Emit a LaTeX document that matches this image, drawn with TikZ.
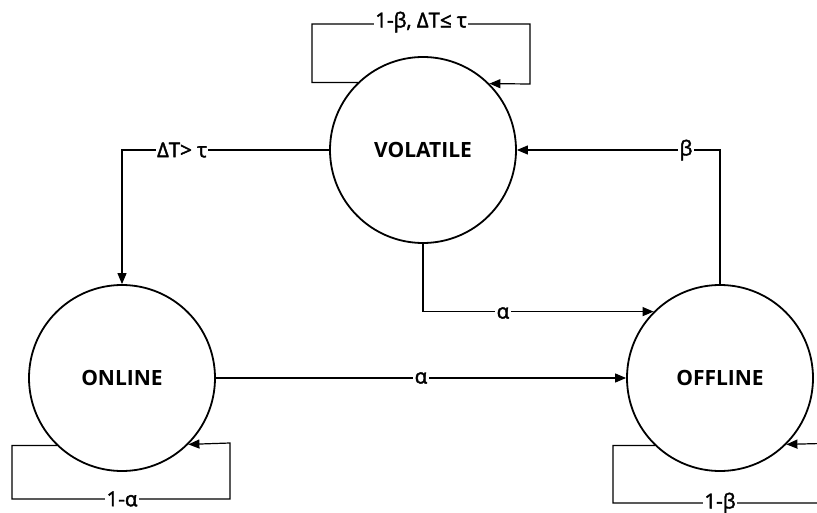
\documentclass[tikz,border=0pt]{standalone}
\usepackage{fontspec}
\setmainfont{Open Sans}
\newfontfamily\lblfont[FakeBold=2]{Open Sans}
\usetikzlibrary{arrows.meta}
\tikzset{
  state/.style={circle, draw, line width=1.8pt, minimum size=186pt, inner sep=0pt,
    font=\fontsize{21}{25}\selectfont\bfseries},
  conn/.style={line width=1.2pt, -{Triangle[length=11pt,width=9pt]}},
  lbl/.style={fill=white, inner sep=1.5pt, font=\lblfont\fontsize{20.5}{24}\selectfont}
}
\begin{document}
\begin{tikzpicture}[x=1pt,y=-1pt]
\useasboundingbox (0,0) rectangle (817,513);
\clip (0,0) rectangle (817,513);
\node[state] (vol) at (423,150) {VOLATILE};
\node[state] (on) at (122,378) {ONLINE};
\node[state] (off) at (720,378) {OFFLINE};
% coordinates for loop corners
\coordinate (vtl) at (312,24);
\coordinate (vbr) at (530,84);
\coordinate (obl) at (12,499);
\coordinate (otr) at (230,443);
\coordinate (fbl) at (613,503);
\coordinate (ftr) at (840,443);
% top self loop
\draw[conn] (vol.134.8) -| (vtl) -| (vbr) -- (vol.45.2);
\node[lbl] (l1) at (421,22) {1-β, ΔT≤ τ};
% volatile -> online
\draw[conn] (vol.west) -| (on.north);
\node[lbl] (l2) at (182,150) {ΔT> τ};
% offline -> volatile
\draw[conn] (off.north) |- (vol.east);
\node[lbl] (l3) at (686,150) {β};
% volatile -> offline
\draw[conn] (vol.south) |- (off.135.7);
\node[lbl] (l4) at (503,313) {α};
% online -> offline
\draw[conn] (on.east) -- (off.west);
\node[lbl] (l5) at (421,378) {α};
% online self loop
\draw[conn] (on.-134.3) -| (obl) -| (otr) -- (on.-45.7);
\node[lbl] (l6) at (122,499) {1-α};
% offline self loop
\draw[conn] (off.-134.3) -| (fbl) -| (ftr) -- (off.-45.7);
\node[lbl] (l7) at (720,503) {1-β};
\end{tikzpicture}
\end{document}
